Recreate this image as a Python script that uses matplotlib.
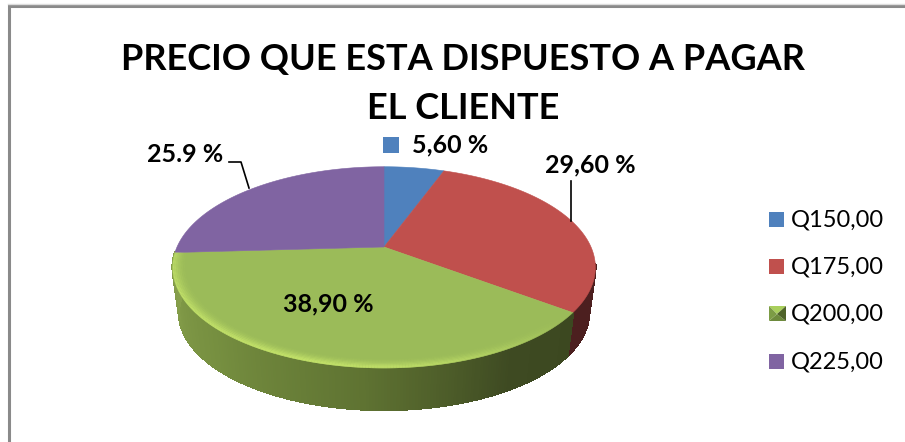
import numpy as np
import matplotlib
matplotlib.use('Agg')
import matplotlib.pyplot as plt
from matplotlib.collections import LineCollection, PolyCollection
from matplotlib.patches import Polygon, Rectangle

plt.rcParams['font.family'] = ['Lato', 'DejaVu Sans']

title = 'PRECIO QUE ESTA DISPUESTO A PAGAR\nEL CLIENTE'
categories = ['Q150,00', 'Q175,00', 'Q200,00', 'Q225,00']
values = [5.6, 29.6, 38.9, 25.9]
value_labels = ['5,60 %', '29,60 %', '38,90 %', '25.9 %']
colors = ['#4f81bd', '#c0504d', '#9bbb59', '#8064a2']


# Perspective view of the pie, angle in degrees clockwise from the top
def project(theta, r=1.0, scale=1.0, y0=247.0):
    u = r * np.sin(np.radians(theta))
    v = r * np.cos(np.radians(theta))
    w = 1 + 0.2023 * v
    return 384 + scale * 207 * u / w, y0 - scale * 96.5 * v / w


fig = plt.figure(figsize=(9.05, 4.42), dpi=100)
ax = fig.add_axes([0, 0, 1, 1])
ax.set_xlim(0, 905)
ax.set_ylim(442, 0)
ax.axis('off')

# Chart frame
ax.plot([9, 9, 905], [442, 6, 6], color='#8a8a8a', lw=2.2, solid_joinstyle='miter')
ax.plot([8, 905], [4.2, 4.2], color='#dddddd', lw=1)

edges = 360 * np.cumsum([0] + values) / np.sum(values)

# Side wall, front part only
side_stops = [90, 127, 150, 185, 225, 267]
side_r = [70, 60, 62, 95, 118, 135]
side_g = [28, 72, 74, 115, 143, 160]
side_b = [28, 32, 34, 50, 64, 76]
angles = np.linspace(100, edges[3], 240)
quads = []
quad_colors = []
for t0, t1 in zip(angles[:-1], angles[1:]):
    xa, ya = project(t0)
    xb, yb = project(t1)
    xc, yc = project(t1, scale=0.97, y0=292.6)
    xd, yd = project(t0, scale=0.97, y0=292.6)
    quads.append([(xa, ya), (xb, yb), (xc, yc), (xd, yd)])
    mid = (t0 + t1) / 2
    if mid < edges[2]:
        quad_colors.append('#4c1f1f')
    else:
        quad_colors.append((np.interp(mid, side_stops, side_r) / 255,
                            np.interp(mid, side_stops, side_g) / 255,
                            np.interp(mid, side_stops, side_b) / 255))
ax.add_collection(PolyCollection(quads, facecolors=quad_colors, edgecolors=quad_colors,
                                 linewidths=1.0, antialiased=False))

# Top surface
for start, end, color in zip(edges[:-1], edges[1:], colors):
    t = np.linspace(start, end, 200)
    xs, ys = project(t)
    pts = np.column_stack([np.r_[384, xs], np.r_[247, ys]])
    ax.add_patch(Polygon(pts, closed=True, facecolor=color, edgecolor=color, lw=0.4))

# Light bevel along the green rim
t = np.linspace(edges[2] + 3, edges[3], 200)
for r, strength in zip([0.996, 0.988, 0.98, 0.972, 0.964, 0.956, 0.948],
                       [0.85, 0.7, 0.5, 0.35, 0.22, 0.12, 0.06]):
    xs, ys = project(t, r=r)
    pts = np.column_stack([xs, ys])
    segs = np.stack([pts[:-1], pts[1:]], axis=1)
    alpha = strength * np.clip(np.sin(np.radians(t[:-1] - 130)) * 1.1, 0.05, 1)
    seg_colors = [(0.78, 0.90, 0.42, a) for a in alpha]
    ax.add_collection(LineCollection(segs, colors=seg_colors, linewidths=1.3))

# Leader lines
ax.plot([229, 241, 249], [162, 162, 188], color='black', lw=1.2)
ax.plot([571, 571], [181, 221], color='black', lw=1.2)

# Title and value labels
ax.text(463, 84, title, ha='center', va='center', fontsize=26, fontweight='bold',
        color='black', linespacing=1.58)
ax.add_patch(Rectangle((383, 137), 16, 16, facecolor=colors[0], edgecolor='none'))
label_pos = [(450, 145), (590, 165), (328, 304), (185, 154)]
for text, (x, y) in zip(value_labels, label_pos):
    ax.text(x, y, text, ha='center', va='center', fontsize=18, fontweight='bold', color='black')

# Legend
legend_y = [220, 267, 314, 362]
for name, color, y in zip(categories, colors, legend_y):
    if name == 'Q200,00':
        ax.add_patch(Polygon([(769, y - 8), (786, y - 8), (777, y)], facecolor='#a9cf5c', edgecolor='none'))
        ax.add_patch(Polygon([(769, y + 7), (786, y + 7), (777, y)], facecolor='#6d8a3c', edgecolor='none'))
        ax.add_patch(Polygon([(769, y - 8), (769, y + 7), (777, y)], facecolor='#7c9c45', edgecolor='none'))
        ax.add_patch(Polygon([(786, y - 8), (786, y + 7), (777, y)], facecolor='#4f6329', edgecolor='none'))
    else:
        ax.add_patch(Rectangle((769, y - 8), 15, 15, facecolor=color, edgecolor='none'))
    ax.text(791, y, name, ha='left', va='center', fontsize=17, color='black')

fig.savefig('out.png', dpi=100)
